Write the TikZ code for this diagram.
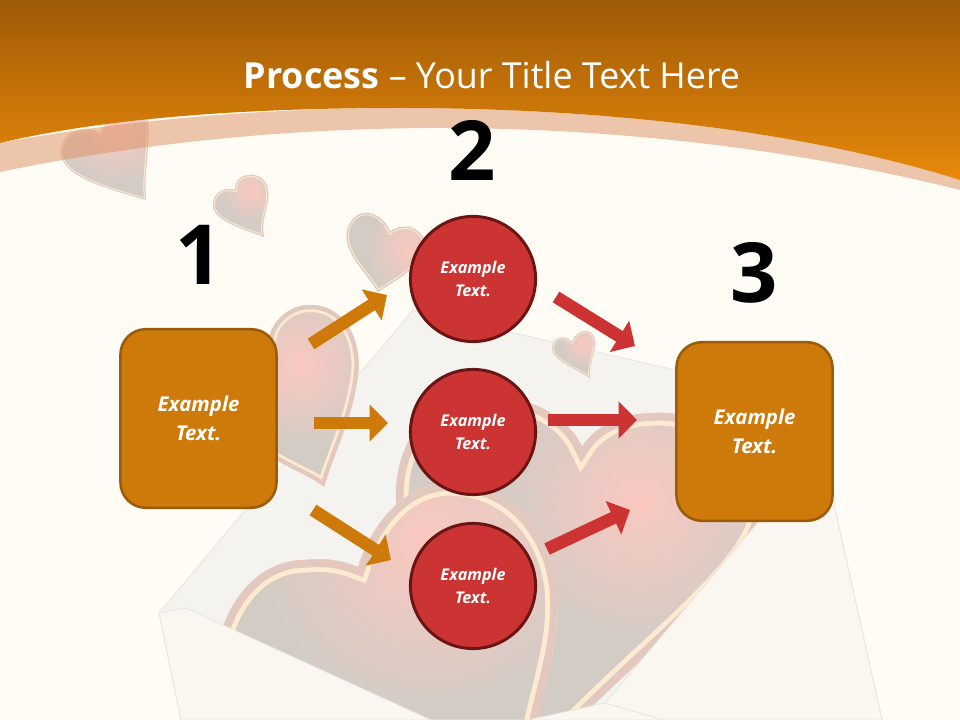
\documentclass[tikz,border=0pt]{standalone}
\usepackage{fontspec}
\setmainfont{Open Sans}
\usetikzlibrary{arrows.meta}
\definecolor{pagecream}{HTML}{FFFCF5}
\definecolor{bandtop}{HTML}{9E5A06}
\definecolor{bandlow}{HTML}{E8890A}
\definecolor{bandpale}{HTML}{DB9060}
\definecolor{boxfill}{HTML}{CE7A0A}
\definecolor{boxline}{HTML}{9A5B0A}
\definecolor{discfill}{HTML}{CC3333}
\definecolor{discline}{HTML}{6B1414}
\definecolor{heartgrey}{HTML}{D3CCC5}
\definecolor{heartpink}{HTML}{FAC8C0}
\definecolor{heartrim}{HTML}{E2C8BE}
\definecolor{heartcream}{HTML}{FCEBD0}
\definecolor{envback}{HTML}{F4F3EF}
\definecolor{envfront}{HTML}{FAF7F1}
\definecolor{envline}{HTML}{E9E6DF}
\tikzset{
  textbox/.style={draw=boxline,fill=boxfill,line width=1.8pt,rounded corners=18pt,minimum width=111pt,minimum height=127pt,align=center,text=white,font=\fontsize{14.5}{21}\selectfont\bfseries\itshape},
  textdisc/.style={draw=discline,fill=discfill,line width=2.1pt,circle,minimum size=89pt,inner sep=0pt,align=center,text=white,font=\fontsize{11.5}{16.5}\selectfont\bfseries\itshape},
  numlabel/.style={text=black,inner sep=0pt,font=\fontsize{59}{59}\selectfont\bfseries},
  orangearrow/.style={draw=boxfill,line width=8.9pt,-{Triangle[length=13pt,width=25.5pt]}},
  redarrow/.style={draw=discfill,line width=8.9pt,-{Triangle[length=13pt,width=25.5pt]}},
  flap/.style={draw=envline,fill=envfront,line width=0.6pt}
}
% path, glow centre, glow radius, rim width, cream width
\newcommand{\glowheart}[5]{
  \begin{scope}
    \clip #1;
    \fill [heartgrey] (0,0) rectangle (960,-720);
    \shade [inner color=heartpink,outer color=heartgrey] (#2) circle (#3);
    \draw [heartcream,line width=#5,miter limit=12] #1;
    \draw [heartrim,line width=#4,miter limit=12] #1;
  \end{scope}
}
\begin{document}
\begin{tikzpicture}[x=0.025cm,y=0.025cm]
\useasboundingbox (0,0) rectangle (960,-720);
\fill [pagecream] (0,0) rectangle (960,-720);
% envelope back
\draw [draw=envline,fill=envback,line width=0.6pt] (159,-613) -- (413,-310) -- (676,-370) -- (833,-500) -- (882,-720) -- (181,-720) -- cycle;
% small hearts
\glowheart{(100,-133) .. controls (85,-125) and (62,-130) .. (61,-152) .. controls (62,-175) and (95,-185) .. (146,-200) .. controls (143,-175) and (150,-150) .. (148,-123) .. controls (148,-100) and (120,-95) .. (100,-133) -- cycle}{115,-125}{60}{1.2pt}{2.6pt}
\glowheart{(235,-190) .. controls (225,-187) and (213,-192) .. (213,-205) .. controls (213,-220) and (240,-228) .. (264,-237) .. controls (260,-220) and (270,-205) .. (268,-190) .. controls (267,-178) and (255,-174) .. (250,-175) .. controls (240,-175) and (235,-182) .. (235,-190) -- cycle}{250,-192}{30}{1.4pt}{2.8pt}
\glowheart{(390,-232) .. controls (385,-218) and (372,-212) .. (365,-213) .. controls (352,-214) and (345,-228) .. (347,-240) .. controls (350,-260) and (365,-270) .. (378,-292) .. controls (395,-280) and (420,-268) .. (425,-250) .. controls (428,-235) and (412,-225) .. (405,-227) .. controls (398,-227) and (393,-229) .. (390,-232) -- cycle}{410,-250}{45}{1.6pt}{3.2pt}
\glowheart{(572,-342) .. controls (565,-335) and (553,-336) .. (552,-348) .. controls (552,-360) and (575,-368) .. (590,-378) .. controls (588,-365) and (596,-350) .. (595,-342) .. controls (595,-330) and (580,-325) .. (572,-342) -- cycle}{582,-345}{22}{1.2pt}{2.4pt}
% large hearts
\glowheart{(268,-345) .. controls (270,-320) and (290,-305) .. (310,-305) .. controls (345,-305) and (362,-340) .. (358,-375) .. controls (352,-420) and (335,-450) .. (324,-487) .. controls (310,-475) and (290,-470) .. (260,-450) .. controls (220,-420) and (210,-380) .. (230,-355) .. controls (245,-345) and (258,-345) .. (268,-345) -- cycle}{300,-365}{80}{6pt}{10pt}
\glowheart{(582,-447) .. controls (570,-420) and (535,-395) .. (480,-395) .. controls (430,-395) and (398,-440) .. (396,-490) .. controls (394,-540) and (420,-650) .. (540,-760) .. controls (640,-650) and (760,-570) .. (762,-510) .. controls (764,-455) and (710,-410) .. (654,-413) .. controls (625,-413) and (595,-425) .. (582,-447) -- cycle}{640,-500}{140}{11pt}{18pt}
\glowheart{(358,-567) .. controls (370,-530) and (400,-483) .. (450,-483) .. controls (510,-483) and (550,-530) .. (557,-587) .. controls (562,-640) and (545,-680) .. (533,-740) .. controls (480,-750) and (440,-750) .. (420,-740) .. controls (300,-720) and (215,-660) .. (222,-630) .. controls (235,-590) and (265,-560) .. (305,-560) .. controls (325,-558) and (340,-560) .. (358,-567) -- cycle}{430,-540}{170}{11pt}{18pt}
% envelope front
\draw [flap] (159,-613) -- (186,-608) -- (431,-720) -- (181,-720) -- cycle;
\draw [flap] (605,-703) -- (760,-520) -- (833,-500) -- (882,-720) -- (663,-720) -- cycle;
\draw [flap] (431,-720) -- (528,-720) -- (605,-703) -- (663,-720) -- cycle;
% top band
\fill [bandpale,fill opacity=0.5] (0,-143) .. controls (150,-115) and (300,-108) .. (400,-108) .. controls (600,-108) and (800,-130) .. (960,-180) -- (960,-190) .. controls (800,-150) and (620,-128) .. (440,-128) .. controls (280,-128) and (130,-145) .. (0,-172) -- cycle;
\shade [top color=bandtop,bottom color=bandlow] (0,0) -- (960,0) -- (960,-180) .. controls (800,-130) and (600,-108) .. (400,-108) .. controls (300,-108) and (130,-112) .. (0,-143) -- cycle;
\node [inner sep=0pt,text=white,font=\fontsize{25.5}{25.5}\selectfont] (title) at (492,-75) {\textbf{Process} -- Your Title Text Here};
% boxes and discs
\node [textbox] (box1) at (198.5,-418.5) {Example\\Text.};
\node [textbox] (box3) at (754.5,-431.5) {Example\\Text.};
\node [textdisc] (disc1) at (473,-279) {Example\\Text.};
\node [textdisc] (disc2) at (473,-432) {Example\\Text.};
\node [textdisc] (disc3) at (473,-586) {Example\\Text.};
\node [numlabel] (num1) at (199,-255) {1};
\node [numlabel] (num2) at (472,-150) {2};
\node [numlabel] (num3) at (754,-273) {3};
% arrows
\coordinate (in1a) at (311,-344);
\coordinate (in1b) at (387,-295);
\coordinate (in2a) at (314,-423);
\coordinate (in2b) at (388,-423);
\coordinate (in3a) at (313,-510);
\coordinate (in3b) at (391,-560);
\coordinate (out1a) at (556,-297);
\coordinate (out1b) at (635,-346);
\coordinate (out2a) at (548,-420);
\coordinate (out2b) at (637,-420);
\coordinate (out3a) at (547,-549);
\coordinate (out3b) at (630,-510);
\draw [orangearrow] (in1a) -- (in1b);
\draw [orangearrow] (in2a) -- (in2b);
\draw [orangearrow] (in3a) -- (in3b);
\draw [redarrow] (out1a) -- (out1b);
\draw [redarrow] (out2a) -- (out2b);
\draw [redarrow] (out3a) -- (out3b);
\end{tikzpicture}
\end{document}
